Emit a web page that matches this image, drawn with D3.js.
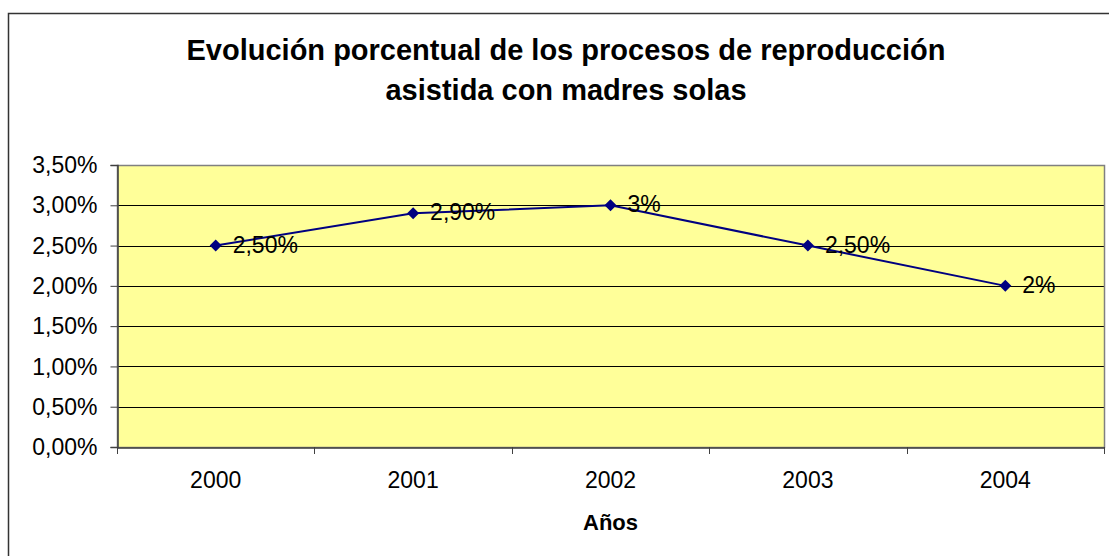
<!DOCTYPE html>
<html><head><meta charset="utf-8">
<script src="https://cdn.jsdelivr.net/npm/d3@7"></script>
<style>body{margin:0;background:#fff;} svg{display:block;font-family:"Liberation Sans",Arial,sans-serif;}</style>
</head><body>
<svg id="c" width="1109" height="556"></svg>
<script>
const categories = ["2000","2001","2002","2003","2004"];
const values = [2.5, 2.9, 3.0, 2.5, 2.0];
const dataLabels = ["2,50%","2,90%","3%","2,50%","2%"];
const yTicks = [0,0.5,1,1.5,2,2.5,3,3.5];
const yTickLabels = ["0,00%","0,50%","1,00%","1,50%","2,00%","2,50%","3,00%","3,50%"];
const titleLines = ["Evolución porcentual de los procesos de reproducción","asistida con madres solas"];
const xTitle = "Años";

const svg = d3.select("#c");
const L=117, R=1104, T=165, B=447;

// outer border
svg.append("path").attr("d","M8.5,1000 V13.5 H1200").attr("fill","none").attr("stroke","#333").attr("stroke-width",1.5);

const x = d3.scaleBand().domain(categories).range([L,R]);
const y = d3.scaleLinear().domain([0,3.5]).range([B,T]);

svg.append("rect").attr("x",L).attr("y",T).attr("width",R-L).attr("height",B-T).attr("fill","#FFFF99");

// gridlines
svg.append("g").selectAll("line").data(yTicks.filter(d=>d>0 && d<3.5)).join("line")
  .attr("x1",L).attr("x2",R).attr("y1",d=>Math.round(y(d))+0.5).attr("y2",d=>Math.round(y(d))+0.5)
  .attr("stroke","#000").attr("stroke-width",1);

// plot border
svg.append("rect").attr("x",L+0.5).attr("y",T+0.5).attr("width",R-L).attr("height",B-T)
  .attr("fill","none").attr("stroke","#808080").attr("stroke-width",1.5);

// y axis
const yAxis = d3.axisLeft(y).tickValues(yTicks).tickSize(7).tickPadding(13)
  .tickFormat((d,i)=>yTickLabels[i]);
const gy = svg.append("g").attr("transform",`translate(${L+0.5},0)`).call(yAxis);
gy.select(".domain").attr("stroke","#404040").attr("stroke-width",1.5);
gy.selectAll(".tick line").attr("stroke","#404040");
gy.selectAll("text").attr("font-size",23).attr("fill","#000").attr("dy","0.33em").attr("font-family","Liberation Sans, Arial, sans-serif");

// x axis
const xAxis = d3.axisBottom(x).tickSize(0).tickPadding(24);
const gx = svg.append("g").attr("transform",`translate(0,${B+0.5})`).call(xAxis);
gx.select(".domain").attr("stroke","#404040").attr("stroke-width",1.5);
gx.selectAll("text").attr("font-size",23).attr("fill","#000").attr("font-family","Liberation Sans, Arial, sans-serif");
// tick marks at band boundaries
const bounds = categories.map(c=>x(c)).concat([R]);
svg.append("g").selectAll("line").data(bounds).join("line")
  .attr("x1",d=>Math.round(d)+0.5).attr("x2",d=>Math.round(d)+0.5).attr("y1",B).attr("y2",B+7)
  .attr("stroke","#404040").attr("stroke-width",1);

// line
const pts = categories.map((c,i)=>[x(c)+x.bandwidth()/2, y(values[i])]);
svg.append("path").attr("d",d3.line()(pts)).attr("fill","none").attr("stroke","#000080").attr("stroke-width",2);
svg.append("g").selectAll("path").data(pts).join("path")
  .attr("d",d=>`M${d[0]},${d[1]-6} L${d[0]+6},${d[1]} L${d[0]},${d[1]+6} L${d[0]-6},${d[1]} Z`)
  .attr("fill","#000080");
svg.append("g").selectAll("text").data(pts).join("text")
  .attr("x",d=>d[0]+17).attr("y",d=>d[1]+7)
  .attr("font-size",23).attr("fill","#000").text((d,i)=>dataLabels[i]);

// title
svg.append("g").selectAll("text").data(titleLines).join("text")
  .attr("x",566).attr("y",(d,i)=>60+i*40).attr("text-anchor","middle")
  .attr("font-size",29).attr("font-weight","bold").text(d=>d);

svg.append("text").attr("x",(L+R)/2).attr("y",530).attr("text-anchor","middle")
  .attr("font-size",22).attr("font-weight","bold").text(xTitle);
</script>
</body></html>
